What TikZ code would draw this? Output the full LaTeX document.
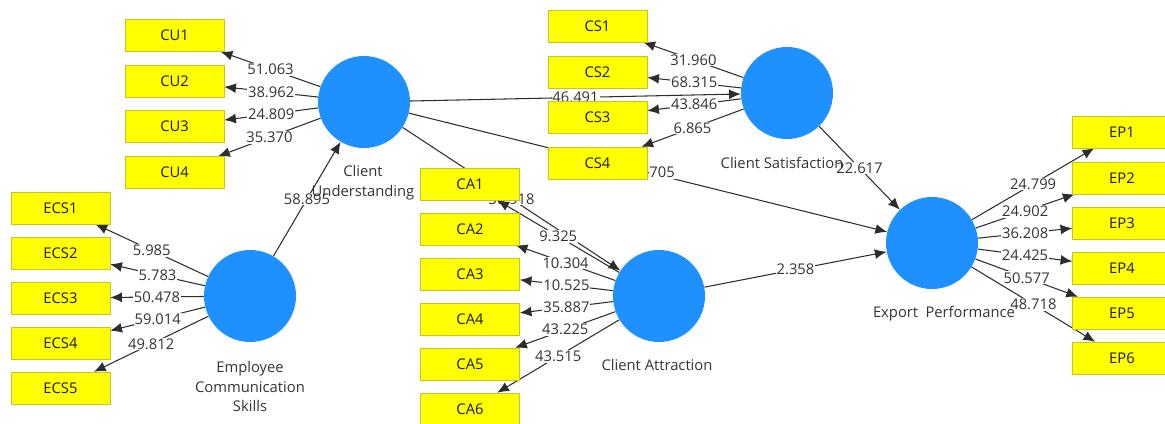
\documentclass[tikz,border=0pt]{standalone}
\usepackage{fontspec}
\setmainfont{Open Sans}
\usetikzlibrary{arrows.meta}
\definecolor{boxyellow}{RGB}{255,255,0}
\definecolor{boxline}{RGB}{196,196,40}
\definecolor{lvblue}{RGB}{30,144,255}
\definecolor{pathgray}{RGB}{45,45,45}

\begin{document}
\begin{tikzpicture}[x=0.03cm, y=-0.03cm,
  font=\fontsize{12.6}{14}\selectfont,
  ind/.style={draw=boxline, fill=boxyellow, minimum width=2.97cm, minimum height=0.96cm, inner sep=0pt, text=black!90},
  lv/.style={circle, fill=lvblue, minimum size=2.76cm, inner sep=0pt},
  lvcap/.style={align=center, text=black!80, font=\fontsize{12.6}{17}\selectfont},
  arr/.style={draw=pathgray, line width=0.9pt, -{Latex[length=10pt,width=8.5pt]}},
  lbl/.style={fill=white, inner sep=0.8pt, text=black!80}]
\useasboundingbox (0,0) rectangle (1165,424);

% latent variables
\node[lv] (cu) at (364, 102) {};
\node[lv] (ecs) at (250, 296) {};
\node[lv] (cs) at (787, 93) {};
\node[lv] (ca) at (659, 296) {};
\node[lv] (ep) at (932, 243) {};

% indicator boxes (placed as coordinates first, drawn later)
\node[minimum width=2.97cm, minimum height=0.96cm, inner sep=0pt] (cu1) at (174.5, 35.5) {};
\node[minimum width=2.97cm, minimum height=0.96cm, inner sep=0pt] (cu2) at (174.5, 81.5) {};
\node[minimum width=2.97cm, minimum height=0.96cm, inner sep=0pt] (cu3) at (174.5, 126.5) {};
\node[minimum width=2.97cm, minimum height=0.96cm, inner sep=0pt] (cu4) at (174.5, 172.5) {};
\node[minimum width=2.97cm, minimum height=0.96cm, inner sep=0pt] (ecs1) at (60.5, 208) {};
\node[minimum width=2.97cm, minimum height=0.96cm, inner sep=0pt] (ecs2) at (60.5, 253) {};
\node[minimum width=2.97cm, minimum height=0.96cm, inner sep=0pt] (ecs3) at (60.5, 298) {};
\node[minimum width=2.97cm, minimum height=0.96cm, inner sep=0pt] (ecs4) at (60.5, 343) {};
\node[minimum width=2.97cm, minimum height=0.96cm, inner sep=0pt] (ecs5) at (60.5, 388) {};
\node[minimum width=2.97cm, minimum height=0.96cm, inner sep=0pt] (cs1) at (597.5, 26) {};
\node[minimum width=2.97cm, minimum height=0.96cm, inner sep=0pt] (cs2) at (597.5, 72) {};
\node[minimum width=2.97cm, minimum height=0.96cm, inner sep=0pt] (cs3) at (597.5, 117) {};
\node[minimum width=2.97cm, minimum height=0.96cm, inner sep=0pt] (cs4) at (597.5, 163) {};
\node[minimum width=2.97cm, minimum height=0.96cm, inner sep=0pt] (ca1) at (470, 184) {};
\node[minimum width=2.97cm, minimum height=0.96cm, inner sep=0pt] (ca2) at (470, 229) {};
\node[minimum width=2.97cm, minimum height=0.96cm, inner sep=0pt] (ca3) at (470, 274) {};
\node[minimum width=2.97cm, minimum height=0.96cm, inner sep=0pt] (ca4) at (470, 319) {};
\node[minimum width=2.97cm, minimum height=0.96cm, inner sep=0pt] (ca5) at (470, 364) {};
\node[minimum width=2.97cm, minimum height=0.96cm, inner sep=0pt] (ca6) at (470, 409) {};
\node[minimum width=2.97cm, minimum height=0.96cm, inner sep=0pt] (ep1) at (1122, 132) {};
\node[minimum width=2.97cm, minimum height=0.96cm, inner sep=0pt] (ep2) at (1122, 178) {};
\node[minimum width=2.97cm, minimum height=0.96cm, inner sep=0pt] (ep3) at (1122, 223) {};
\node[minimum width=2.97cm, minimum height=0.96cm, inner sep=0pt] (ep4) at (1122, 268) {};
\node[minimum width=2.97cm, minimum height=0.96cm, inner sep=0pt] (ep5) at (1122, 313) {};
\node[minimum width=2.97cm, minimum height=0.96cm, inner sep=0pt] (ep6) at (1122, 358) {};

% inner model
\draw[arr] (ecs) -- node[lbl] {58.895} (cu);
\draw[arr] (cu) -- node[lbl] {46.491} (cs);
\draw[arr] (cu) -- node[lbl] {30.918} (ca);
\draw[arr] (cu) -- node[lbl, anchor=west] {705} (ep);
\draw[arr] (cs) -- node[lbl] {22.617} (ep);
\draw[arr] (ca) -- node[lbl] {2.358} (ep);

% outer loadings
\draw[arr] (cu) -- node[lbl] {51.063} (cu1);
\draw[arr] (cu) -- node[lbl] {38.962} (cu2);
\draw[arr] (cu) -- node[lbl] {24.809} (cu3);
\draw[arr] (cu) -- node[lbl] {35.370} (cu4);

\draw[arr] (ecs) -- node[lbl] {5.985} (ecs1);
\draw[arr] (ecs) -- node[lbl] {5.783} (ecs2);
\draw[arr] (ecs) -- node[lbl] {50.478} (ecs3);
\draw[arr] (ecs) -- node[lbl] {59.014} (ecs4);
\draw[arr] (ecs) -- node[lbl] {49.812} (ecs5);

\draw[arr] (cs) -- node[lbl] {31.960} (cs1);
\draw[arr] (cs) -- node[lbl] {68.315} (cs2);
\draw[arr] (cs) -- node[lbl] {43.846} (cs3);
\draw[arr] (cs) -- node[lbl] {6.865} (cs4);

\draw[arr] (ca) -- node[lbl] {9.325} (ca1);
\draw[arr] (ca) -- node[lbl] {10.304} (ca2);
\draw[arr] (ca) -- node[lbl] {10.525} (ca3);
\draw[arr] (ca) -- node[lbl] {35.887} (ca4);
\draw[arr] (ca) -- node[lbl] {43.225} (ca5);
\draw[arr] (ca) -- node[lbl] {43.515} (ca6);

\draw[arr] (ep) -- node[lbl] {24.799} (ep1);
\draw[arr] (ep) -- node[lbl] {24.902} (ep2);
\draw[arr] (ep) -- node[lbl] {36.208} (ep3);
\draw[arr] (ep) -- node[lbl] {24.425} (ep4);
\draw[arr] (ep) -- node[lbl] {50.577} (ep5);
\draw[arr] (ep) -- node[lbl] {48.718} (ep6);

% boxes on top
\node[ind] at (cu1) {CU1};
\node[ind] at (cu2) {CU2};
\node[ind] at (cu3) {CU3};
\node[ind] at (cu4) {CU4};
\node[ind] at (ecs1) {ECS1};
\node[ind] at (ecs2) {ECS2};
\node[ind] at (ecs3) {ECS3};
\node[ind] at (ecs4) {ECS4};
\node[ind] at (ecs5) {ECS5};
\node[ind] at (cs1) {CS1};
\node[ind] at (cs2) {CS2};
\node[ind] at (cs3) {CS3};
\node[ind] at (cs4) {CS4};
\node[ind] at (ca1) {CA1};
\node[ind] at (ca2) {CA2};
\node[ind] at (ca3) {CA3};
\node[ind] at (ca4) {CA4};
\node[ind] at (ca5) {CA5};
\node[ind] at (ca6) {CA6};
\node[ind] at (ep1) {EP1};
\node[ind] at (ep2) {EP2};
\node[ind] at (ep3) {EP3};
\node[ind] at (ep4) {EP4};
\node[ind] at (ep5) {EP5};
\node[ind] at (ep6) {EP6};

% captions
\node[lvcap] (cucap) at (363, 183) {Client\\Understanding};
\node[lvcap] (ecscap) at (250, 386.5) {Employee\\Communication\\Skills};
\node[lvcap] (cscap) at (782, 163) {Client Satisfaction};
\node[lvcap] (cacap) at (657, 365) {Client Attraction};
\node[lvcap] (epcap) at (944, 314) {Export\hspace{0.5em}Performance};
\end{tikzpicture}
\end{document}
